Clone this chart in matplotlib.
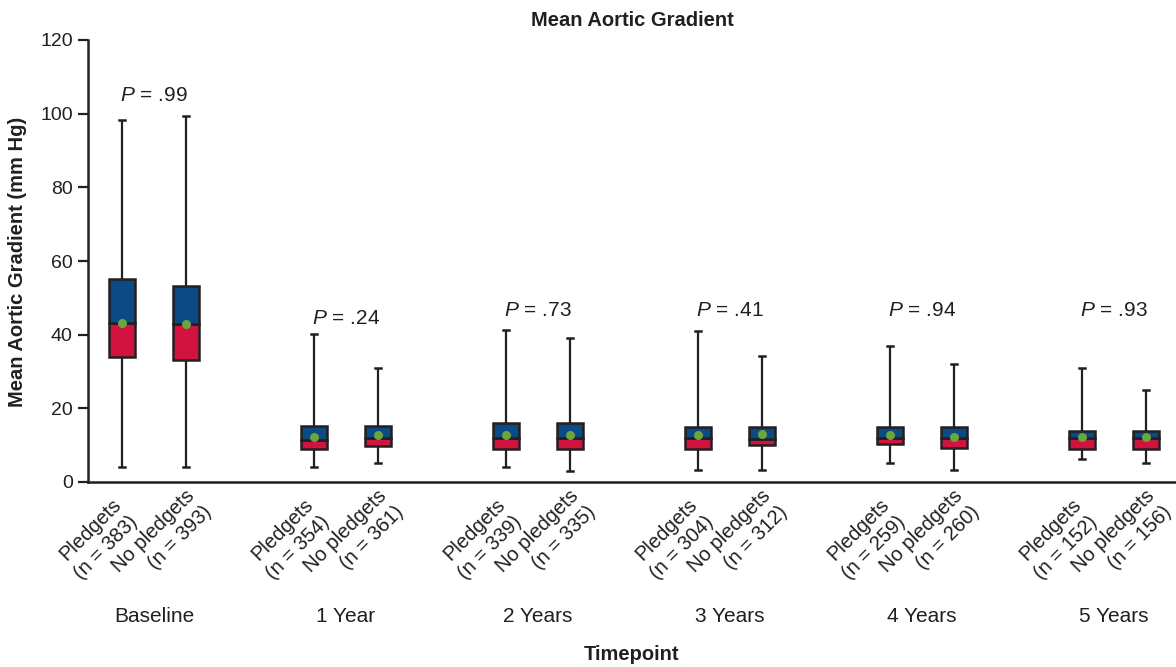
import matplotlib
matplotlib.use("Agg")
import matplotlib.pyplot as plt
from matplotlib.transforms import ScaledTranslation
import numpy as np

plt.rcParams['font.family'] = ['Liberation Sans', 'DejaVu Sans']
plt.rcParams['mathtext.fontset'] = 'custom'
plt.rcParams['mathtext.rm'] = 'Liberation Sans'
plt.rcParams['mathtext.it'] = 'Liberation Sans:italic'

# ---- data ----
groups = ['Baseline', '1 Year', '2 Years', '3 Years', '4 Years', '5 Years']
n_pledgets = [383, 354, 339, 304, 259, 152]
n_nopledgets = [393, 361, 335, 312, 260, 156]
p_values = ['.99', '.24', '.73', '.41', '.94', '.93']
p_label_y = [105, 44.5, 46.5, 46.5, 46.5, 46.5]

pl_low = [4.0, 4.0, 4.0, 3.3, 5.1, 6.2]
pl_q1 = [33.9, 9.0, 9.0, 9.0, 10.2, 8.9]
pl_med = [43.3, 11.4, 12.0, 11.9, 11.9, 12.0]
pl_q3 = [55.1, 15.3, 15.9, 14.8, 15.0, 13.8]
pl_high = [98.3, 40.2, 41.3, 41.0, 36.9, 31.0]
pl_mean = [43.3, 12.2, 12.8, 12.7, 12.7, 12.2]

np_low = [4.0, 5.1, 3.0, 3.3, 3.3, 5.1]
np_q1 = [33.1, 9.9, 9.0, 10.0, 9.2, 9.0]
np_med = [43.0, 12.0, 12.0, 11.8, 11.9, 12.0]
np_q3 = [53.3, 15.2, 15.9, 14.9, 15.0, 13.8]
np_high = [99.4, 31.0, 39.2, 34.2, 32.1, 25.0]
np_mean = [43.0, 12.8, 12.8, 13.1, 12.3, 12.2]

# ---- style ----
BLUE = '#0C4A84'
RED = '#D1143F'
GREEN = '#6BA540'
EDGE = '#231F20'
TXT = '#231F20'

fig = plt.figure(figsize=(11.76, 6.67), dpi=100)
ax = fig.add_axes([88/1176, 1-482/667, 1-88/1176, (482-40)/667])

centers = np.arange(len(groups))
off = 1/3
bw = 0.135
capw = 0.035


def px(dx, dy):
    return ScaledTranslation(dx/100, dy/100, fig.dpi_scale_trans)


def draw_box(x, lo, q1, med, q3, hi, mean):
    # whiskers
    ax.plot([x, x], [q3, hi], color=EDGE, lw=1.6, zorder=2, solid_capstyle='butt')
    ax.plot([x, x], [lo, q1], color=EDGE, lw=1.6, zorder=2, solid_capstyle='butt')
    ax.plot([x-capw/2, x+capw/2], [hi, hi], color=EDGE, lw=1.8, zorder=2)
    ax.plot([x-capw/2, x+capw/2], [lo, lo], color=EDGE, lw=1.8, zorder=2)
    # halves
    ax.bar(x, med-q1, bottom=q1, width=bw, color=RED, edgecolor=EDGE, lw=1.8, zorder=3)
    ax.bar(x, q3-med, bottom=med, width=bw, color=BLUE, edgecolor=EDGE, lw=1.8, zorder=3)
    ax.plot([x], [mean], 'o', color=GREEN, ms=6.5, mec='none', zorder=4)


labels_x = []
labels_t = []
for i in range(len(groups)):
    xp = centers[i] - off/2
    xn = centers[i] + off/2
    draw_box(xp, pl_low[i], pl_q1[i], pl_med[i], pl_q3[i], pl_high[i], pl_mean[i])
    draw_box(xn, np_low[i], np_q1[i], np_med[i], np_q3[i], np_high[i], np_mean[i])
    labels_x += [xp, xn]
    labels_t += [f'Pledgets\n(n = {n_pledgets[i]})', f'No pledgets\n(n = {n_nopledgets[i]})']
    ax.text(centers[i], p_label_y[i], f'$P$ = {p_values[i]}', ha='center', va='center',
            fontsize=15, color=TXT)
    ax.text(centers[i], 0, groups[i], transform=ax.get_xaxis_transform() + px(0, -134),
            ha='center', va='center', fontsize=15, color=TXT)

for x, t in zip(labels_x, labels_t):
    ax.text(x, 0, t, transform=ax.get_xaxis_transform() + px(-24, -57),
            rotation=45, rotation_mode='anchor', ha='center', va='center',
            multialignment='right', fontsize=14.5, color=TXT, linespacing=1.3)

ax.set_xlim((88-154)/192, (1176-154)/192)
ax.set_ylim(0, 120)
ax.set_yticks([0, 20, 40, 60, 80, 100, 120])
ax.set_xticks([])
ax.tick_params(axis='y', length=7, width=1.6, labelsize=14, colors=EDGE, labelcolor=TXT, pad=4)
for s in ['top', 'right']:
    ax.spines[s].set_visible(False)
for s in ['left', 'bottom']:
    ax.spines[s].set_linewidth(1.8)
    ax.spines[s].set_color(EDGE)

ax.text(0.5, 1, 'Mean Aortic Gradient', transform=ax.transAxes + px(0, 20),
        ha='center', va='center', fontsize=14.5, fontweight='bold', color=TXT)
ax.text(0.5, 0, 'Timepoint', transform=ax.transAxes + px(0, -173),
        ha='center', va='center', fontsize=14.5, fontweight='bold', color=TXT)
fig.text(18/1176, 1-262/667, 'Mean Aortic Gradient (mm Hg)', rotation=90,
         ha='center', va='center', fontsize=14.5, fontweight='bold', color=TXT)

fig.savefig('out.png', dpi=100)
